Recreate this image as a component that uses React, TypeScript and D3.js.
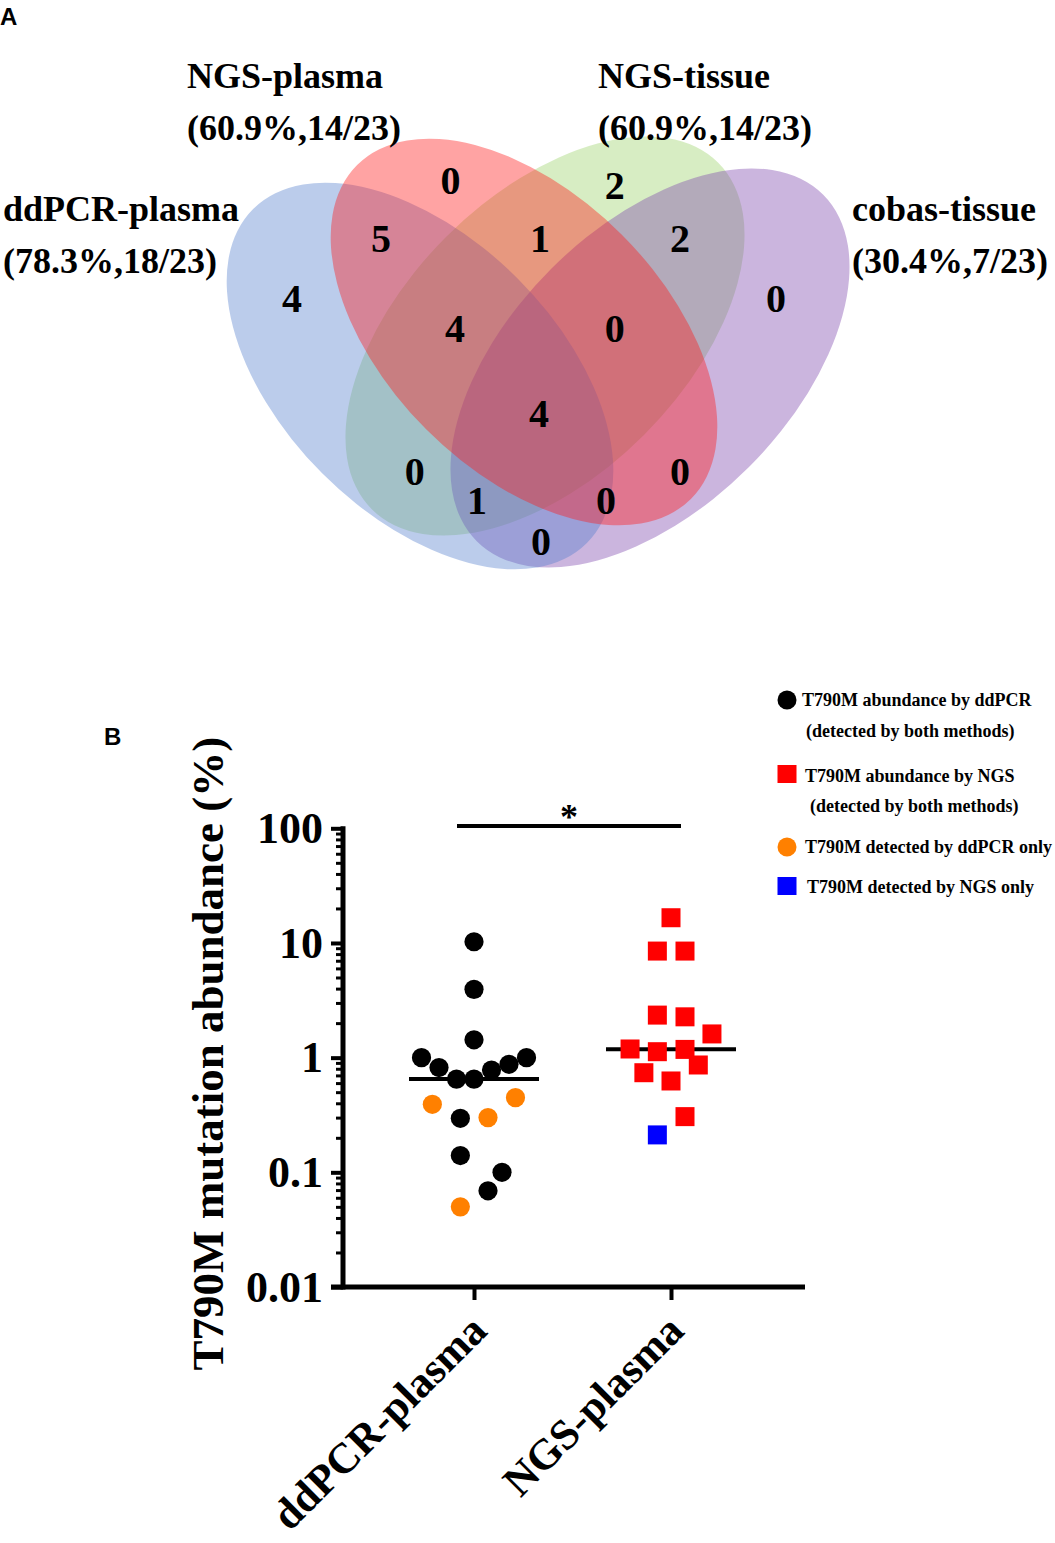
import { useEffect, useRef } from 'react'
import * as d3 from 'd3'

const WIDTH = 1055
const HEIGHT = 1543
const SERIF = '"Liberation Serif", "Times New Roman", Times, serif'
const SANS = '"Liberation Sans", Arial, Helvetica, sans-serif'

// ---- panel A: detection overlap (23 patients)
const vennSets = ['ddPCR-plasma', 'NGS-plasma', 'NGS-tissue', 'cobas-tissue']
const vennRates = ['(78.3%,18/23)', '(60.9%,14/23)', '(60.9%,14/23)', '(30.4%,7/23)']
// d = ddPCR-plasma, n = NGS-plasma, t = NGS-tissue, c = cobas-tissue
const regionSets = ['n', 't', 'dn', 'nt', 'tc', 'd', 'c', 'dnt', 'ntc', 'dntc', 'dt', 'nc', 'dtc', 'dnc', 'dc']
const regionCounts = [0, 2, 5, 1, 2, 4, 0, 4, 0, 4, 0, 0, 1, 0, 0]

// ---- panel B: T790M abundance (%)
const groups = ['ddPCR-plasma', 'NGS-plasma']
const ddpcrBoth = [10.25, 3.94, 1.43, 1.0, 1.0, 0.82, 0.875, 0.78, 0.65, 0.65, 0.296, 0.14, 0.1, 0.069]
const ddpcrBothJitter = [0, 0, 0, -3, 3, -2, 2, 1, -1, 0, -0.78, -0.78, 1.6, 0.8]
const ddpcrOnly = [0.392, 0.448, 0.3, 0.05]
const ddpcrOnlyJitter = [-2.38, 2.37, 0.8, -0.78]
const ngsBoth = [16.6, 8.5, 8.5, 2.35, 2.27, 1.61, 1.19, 1.127, 1.18, 0.863, 0.739, 0.626, 0.306]
const ngsBothJitter = [0, -0.78, 0.8, -0.78, 0.8, 2.34, -2.34, -0.78, 0.8, 1.56, -1.55, 0, 0.8]
const ngsOnly = [0.212]
const ngsOnlyJitter = [-0.78]
const yTicks = [0.01, 0.1, 1, 10, 100]
const legendLabels = [
  ['T790M abundance by ddPCR', '(detected by both methods)'],
  ['T790M abundance by NGS', '(detected by both methods)'],
  ['T790M detected by ddPCR only'],
  ['T790M detected by NGS only'],
]

// venn geometry, in venn units (order follows vennSets)
const ellipses = [
  { cx: -0.58, cy: 0.13, a: 1.18, b: 0.69, rot: 45, fill: 'rgb(85,128,205)' },
  { cx: -0.06, cy: -0.09, a: 1.18, b: 0.69, rot: 45, fill: 'rgb(255,25,25)' },
  { cx: 0.045, cy: -0.07, a: 1.225, b: 0.7, rot: -45, fill: 'rgb(155,210,105)' },
  { cx: 0.57, cy: 0.09, a: 1.225, b: 0.7, rot: -45, fill: 'rgb(125,70,172)' },
]
const drawOrder = [2, 3, 0, 1]
const regionAnchors = [
  [-0.4275, -0.85], [0.3935, -0.825], [-0.775, -0.56], [0.02, -0.56], [0.72, -0.56],
  [-1.22, -0.26], [1.2, -0.26], [-0.405, -0.11], [0.3935, -0.11], [0.015, 0.315],
  [-0.6065, 0.605], [0.72, 0.605], [-0.295, 0.75], [0.35, 0.75], [0.025, 0.955],
]
const setLabelAnchors = [[3, 221], [187, 88], [598, 88], [852, 221]]

type Sel = d3.Selection<SVGSVGElement, unknown, null, undefined>

function drawVenn(svg: Sel) {
  const vx = d3.scaleLinear().domain([-1, 1]).range([336, 736])
  const vy = d3.scaleLinear().domain([-1, 1]).range([150, 550])
  const unit = vx(1) - vx(0)
  const g = svg.append('g')

  drawOrder.forEach(i => {
    const e = ellipses[i]
    g.append('ellipse')
      .attr('cx', vx(e.cx))
      .attr('cy', vy(e.cy))
      .attr('rx', e.a * unit)
      .attr('ry', e.b * unit)
      .attr('transform', `rotate(${e.rot},${vx(e.cx)},${vy(e.cy)})`)
      .attr('fill', e.fill)
      .attr('fill-opacity', 0.4)
  })

  regionCounts.forEach((n, i) => {
    g.append('text')
      .attr('x', vx(regionAnchors[i][0]))
      .attr('y', vy(regionAnchors[i][1]))
      .attr('dy', '0.35em')
      .attr('text-anchor', 'middle')
      .style('font-family', SERIF)
      .style('font-weight', 'bold')
      .style('font-size', '40px')
      .attr('data-region', regionSets[i])
      .text(n)
  })

  vennSets.forEach((name, i) => {
    const [x, y] = setLabelAnchors[i]
    const t = g.append('text')
      .style('font-family', SERIF)
      .style('font-weight', 'bold')
      .style('font-size', '36px')
    t.append('tspan').attr('x', x).attr('y', y).text(name)
    t.append('tspan').attr('x', x).attr('y', y + 52).text(vennRates[i])
  })

  svg.append('text')
    .attr('x', 0).attr('y', 25)
    .style('font-family', SANS).style('font-weight', 'bold').style('font-size', '24px')
    .text('A')
}

function drawScatter(svg: Sel) {
  const left = 343
  const right = 805
  const y = d3.scaleLog().domain([0.01, 100]).range([1287, 828.3])
  const x = d3.scalePoint<string>().domain(groups).range([474, 671])
  const jit = d3.scaleLinear().domain([0, 1]).range([0, 17.5])
  const g = svg.append('g')

  // minor + major y ticks
  const minors = y.ticks().filter(v => !yTicks.some(t => Math.abs(t - v) < t * 1e-6))
  const minorAxis = g.append('g')
    .attr('transform', `translate(${left},0)`)
    .call(d3.axisLeft(y).tickValues(minors).tickSize(7).tickFormat(() => ''))
  minorAxis.select('.domain').remove()
  minorAxis.selectAll('.tick line').attr('stroke', '#000').attr('stroke-width', 3)

  const majorAxis = g.append('g')
    .attr('transform', `translate(${left},0)`)
    .call(d3.axisLeft(y).tickValues(yTicks).tickSize(12).tickPadding(8)
      .tickFormat(d => String(+d)))
  majorAxis.select('.domain').remove()
  majorAxis.selectAll('.tick line').attr('stroke', '#000').attr('stroke-width', 4)
  majorAxis.selectAll('.tick text')
    .attr('fill', '#000')
    .style('font-family', SERIF)
    .style('font-weight', 'bold')
    .style('font-size', '44px')

  g.append('line')
    .attr('x1', left).attr('x2', left)
    .attr('y1', y(100) - 2).attr('y2', y(0.01) + 2.5)
    .attr('stroke', '#000').attr('stroke-width', 5)
  g.append('line')
    .attr('x1', left - 12).attr('x2', right)
    .attr('y1', y(0.01)).attr('y2', y(0.01))
    .attr('stroke', '#000').attr('stroke-width', 5)

  // category ticks and labels
  const xAxis = g.append('g')
    .attr('transform', `translate(0,${y(0.01)})`)
    .call(d3.axisBottom(x).tickSize(13).tickFormat(() => ''))
  xAxis.select('.domain').remove()
  xAxis.selectAll('.tick line').attr('stroke', '#000').attr('stroke-width', 4)

  groups.forEach(name => {
    g.append('text')
      .attr('transform', `translate(${(x(name) as number) + 15},${y(0.01) + 46}) rotate(-45)`)
      .attr('text-anchor', 'end')
      .style('font-family', SERIF)
      .style('font-weight', 'bold')
      .style('font-size', '43px')
      .text(name)
  })

  g.append('text')
    .attr('transform', `translate(223,${(y(100) + y(0.01)) / 2 - 4}) rotate(-90)`)
    .attr('text-anchor', 'middle')
    .style('font-family', SERIF)
    .style('font-weight', 'bold')
    .style('font-size', '45px')
    .text('T790M mutation abundance (%)')

  // medians
  const medians = [
    d3.median([...ddpcrBoth, ...ddpcrOnly]) as number,
    d3.median([...ngsBoth, ...ngsOnly]) as number,
  ]
  groups.forEach((name, i) => {
    const cx = x(name) as number
    g.append('line')
      .attr('x1', cx - 65).attr('x2', cx + 65)
      .attr('y1', y(medians[i])).attr('y2', y(medians[i]))
      .attr('stroke', '#000').attr('stroke-width', 4)
  })

  const circles = (vals: number[], jitter: number[], color: string) => {
    g.selectAll(null)
      .data(vals)
      .enter()
      .append('circle')
      .attr('cx', (_, i) => (x(groups[0]) as number) + jit(jitter[i]))
      .attr('cy', d => y(d))
      .attr('r', 9.6)
      .attr('fill', color)
  }
  const squares = (vals: number[], jitter: number[], color: string) => {
    const s = 19
    g.selectAll(null)
      .data(vals)
      .enter()
      .append('rect')
      .attr('x', (_, i) => (x(groups[1]) as number) + jit(jitter[i]) - s / 2)
      .attr('y', d => y(d) - s / 2)
      .attr('width', s)
      .attr('height', s)
      .attr('fill', color)
  }
  circles(ddpcrOnly, ddpcrOnlyJitter, '#FF8000')
  circles(ddpcrBoth, ddpcrBothJitter, '#000000')
  squares(ngsBoth, ngsBothJitter, '#FF0000')
  squares(ngsOnly, ngsOnlyJitter, '#0000FF')

  // significance bar
  g.append('line')
    .attr('x1', 457).attr('x2', 681)
    .attr('y1', 826).attr('y2', 826)
    .attr('stroke', '#000').attr('stroke-width', 4)
  g.append('text')
    .attr('x', 569).attr('y', 829)
    .attr('text-anchor', 'middle')
    .style('font-family', SERIF)
    .style('font-weight', 'bold')
    .style('font-size', '36px')
    .text('*')

  svg.append('text')
    .attr('x', 104).attr('y', 745)
    .style('font-family', SANS).style('font-weight', 'bold').style('font-size', '24px')
    .text('B')
}

function drawLegend(svg: Sel) {
  const g = svg.append('g')
  const markerX = 787
  const rows = [700, 774, 847, 886]
  const textX = [[802, 806], [805, 810], [805], [807]]
  const baselines = [[706, 737], [782, 812], [853], [893]]
  const colors = ['#000000', '#FF0000', '#FF8000', '#0000FF']
  const isSquare = [false, true, false, true]

  legendLabels.forEach((lines, i) => {
    if (isSquare[i]) {
      g.append('rect')
        .attr('x', markerX - 9.5).attr('y', rows[i] - 9)
        .attr('width', 19).attr('height', 18)
        .attr('fill', colors[i])
    } else {
      g.append('circle')
        .attr('cx', markerX).attr('cy', rows[i]).attr('r', 9.5)
        .attr('fill', colors[i])
    }
    lines.forEach((line, j) => {
      g.append('text')
        .attr('x', textX[i][j]).attr('y', baselines[i][j])
        .style('font-family', SERIF)
        .style('font-weight', 'bold')
        .style('font-size', '18px')
        .text(line)
    })
  })
}

export default function App() {
  const svgRef = useRef<SVGSVGElement>(null)

  useEffect(() => {
    if (!svgRef.current) return
    const svg = d3.select(svgRef.current)
    svg.selectAll('*').remove()
    drawVenn(svg)
    drawScatter(svg)
    drawLegend(svg)
  }, [])

  return (
    <svg
      ref={svgRef}
      width={WIDTH}
      height={HEIGHT}
      style={{ position: 'absolute', left: 0, top: 0, background: '#fff' }}
    />
  )
}
